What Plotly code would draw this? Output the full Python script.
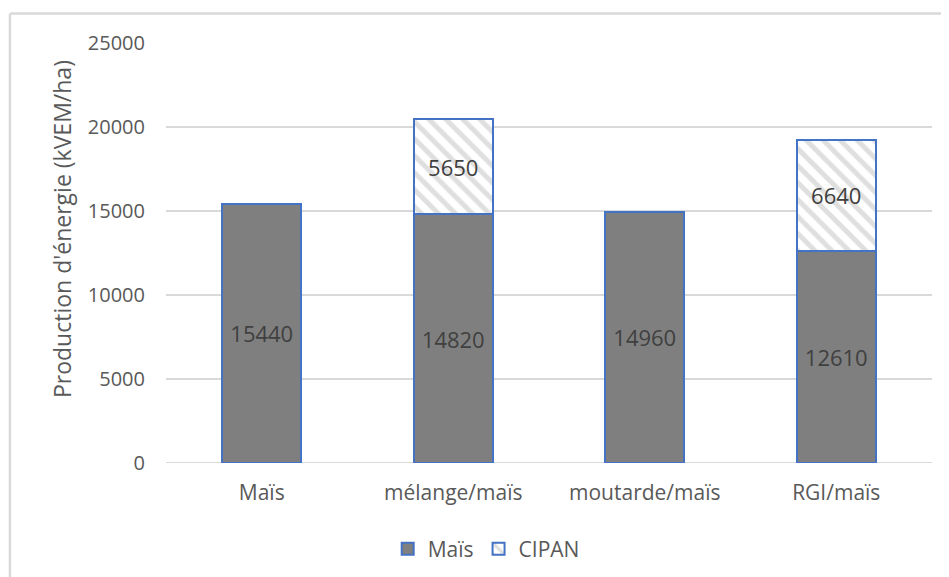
import plotly.graph_objects as go

categories = ["Maïs", "mélange/maïs", "moutarde/maïs", "RGI/maïs"]
mais_values = [15440, 14820, 14960, 12610]
cipan_values = [None, 5650, None, 6640]
y_ticks = [0, 5000, 10000, 15000, 20000, 25000]
y_tick_labels = ["0", "5000", "10000", "15000", "20000", "25000"]

FONT = "Open Sans"
BLUE = "#4472C4"

fig = go.Figure()
fig.add_trace(go.Bar(
    name="Maïs", x=categories, y=mais_values,
    marker=dict(color="#7F7F7F", line=dict(color=BLUE, width=2)),
    text=[str(v) for v in mais_values], textposition="inside",
    insidetextanchor="middle", textangle=0,
    insidetextfont=dict(color="#404040", size=22, family=FONT),
))
fig.add_trace(go.Bar(
    name="CIPAN", x=categories, y=cipan_values,
    marker=dict(color="white", line=dict(color=BLUE, width=2),
                pattern=dict(shape="\\", fgcolor="#C0C0C0", bgcolor="white",
                             size=12, solidity=0.42)),
    text=[("" if v is None else str(v)) for v in cipan_values], textposition="inside",
    insidetextanchor="middle", textangle=0,
    insidetextfont=dict(color="#404040", size=22, family=FONT),
))

fig.update_layout(
    barmode="stack", bargap=0.59,
    width=949, height=577,
    margin=dict(l=158, r=25, t=35, b=122),
    paper_bgcolor="white", plot_bgcolor="white",
    font=dict(family=FONT, color="#595959", size=20),
    legend=dict(orientation="h", x=0.418, xanchor="center", y=-0.205, yanchor="middle",
                font=dict(size=21, color="#595959"), itemwidth=30, traceorder="normal"),
    xaxis=dict(showgrid=False, showline=False, ticks="", tickfont=dict(size=21),
               ticklabelstandoff=15),
    yaxis=dict(range=[0, 25000], tickvals=y_ticks, ticktext=y_tick_labels,
               showgrid=True, gridcolor="#D9D9D9",
               gridwidth=1.5, zeroline=False, showline=False, ticks="",
               tickfont=dict(size=20), ticklabelstandoff=20),
    annotations=[
        dict(text="Production d'énergie (kVEM/ha)", textangle=-90, showarrow=False,
             xref="paper", yref="paper", x=-0.1358, y=0.557, xanchor="center", yanchor="middle",
             font=dict(size=23, color="#595959", family=FONT)),
    ],
    shapes=[
        dict(type="line", xref="paper", yref="paper", x0=-0.2037, x1=1.1, y0=1.07, y1=1.07,
             line=dict(color="#D9D9D9", width=2.5)),
        dict(type="line", xref="paper", yref="paper", x0=-0.2037, x1=-0.2037, y0=1.07, y1=-0.4,
             line=dict(color="#D9D9D9", width=2.5)),
        dict(type="line", xref="paper", yref="y", x0=0, x1=1, y0=0, y1=0,
             line=dict(color="#D9D9D9", width=2), layer="below"),
    ],
)

fig.write_html("out.html")
